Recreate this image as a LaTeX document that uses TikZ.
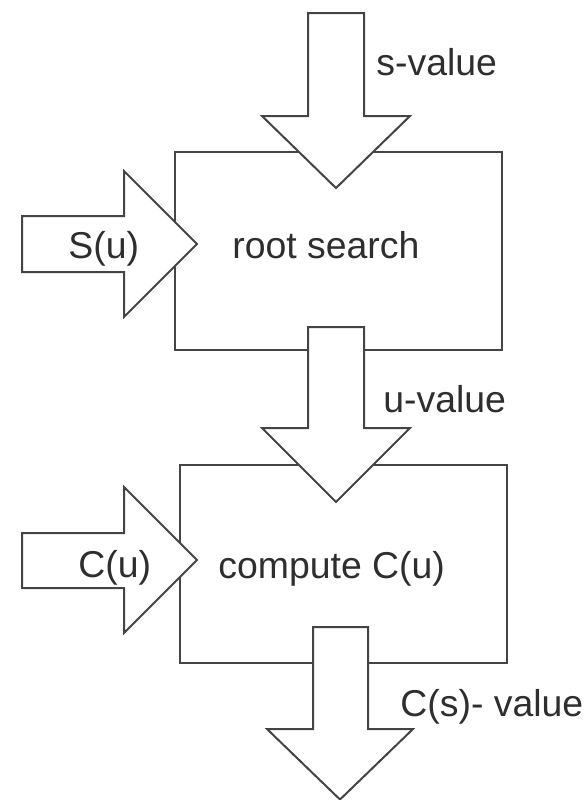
\documentclass[tikz,border=0pt]{standalone}
\usepackage{fontspec}
\setmainfont{Liberation Sans}
\definecolor{linegray}{HTML}{444444}
\definecolor{textgray}{HTML}{2E2E2E}
\begin{document}
\begin{tikzpicture}[x=0.5pt,y=-0.5pt,
    stage/.style={draw=linegray, line width=1pt, minimum width=163.5pt, minimum height=99pt, inner sep=0pt},
    flow/.style={draw=linegray, fill=white, line width=1pt, line join=miter},
    tag/.style={text=textgray, font=\fontsize{18.7}{20}\selectfont, inner sep=0pt, anchor=base west}]
    \useasboundingbox (0,0) rectangle (584,800);
    % the two boxes
    \node[stage] (search) at (338.5,251) {};
    \node[stage] (compute) at (343.5,564) {};
    % block arrows
    \draw[flow] (308,13) -- (364,13) -- (364,116) -- (410,116) -- (336,188) -- (262,116) -- (308,116) -- cycle;
    \draw[flow] (22,216) -- (124,216) -- (124,171) -- (197,244) -- (124,317) -- (124,272) -- (22,272) -- cycle;
    \draw[flow] (308,327) -- (364,327) -- (364,428) -- (410,428) -- (336,502) -- (262,428) -- (308,428) -- cycle;
    \draw[flow] (22,533) -- (124,533) -- (124,487) -- (197,560) -- (124,633) -- (124,588) -- (22,588) -- cycle;
    \draw[flow] (313,627) -- (368,627) -- (368,729) -- (413,729) -- (340,799.5) -- (267,729) -- (313,729) -- cycle;
    % labels
    \node[tag] (sval) at (376,75) {s-value};
    \node[tag] (uval) at (383,412) {u-value};
    \node[tag] (csval) at (400,716) {C(s)- value};
    \node[tag] (sin) at (68,258) {S(u)};
    \node[tag] (cin) at (78,577) {C(u)};
    \node[tag] (searchtext) at (232,258) {root search};
    \node[tag] (computetext) at (218,578) {compute C(u)};
\end{tikzpicture}
\end{document}
